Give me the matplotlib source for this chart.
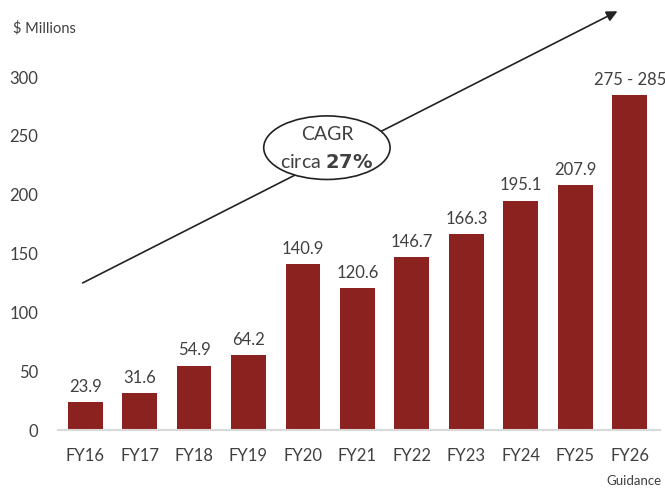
import matplotlib.pyplot as plt
from matplotlib.patches import Ellipse

categories = ["FY16", "FY17", "FY18", "FY19", "FY20", "FY21", "FY22", "FY23", "FY24", "FY25", "FY26"]
values = [23.9, 31.6, 54.9, 64.2, 140.9, 120.6, 146.7, 166.3, 195.1, 207.9, 285]
labels = ["23.9", "31.6", "54.9", "64.2", "140.9", "120.6", "146.7", "166.3", "195.1", "207.9", "275 - 285"]
yticks = [0, 50, 100, 150, 200, 250, 300]

plt.rcParams['font.family'] = ['Lato', 'DejaVu Sans']
txt = '#404040'
bar_c = '#8B221F'

fig = plt.figure(figsize=(6.65, 4.91), dpi=100)
ax = fig.add_axes([0.087, 0.124, 0.905, 0.719])
x = list(range(len(categories)))
ax.bar(x, values, width=0.64, color=bar_c, zorder=2)
for xi, v, l in zip(x, values, labels):
    ax.text(xi, v + 6, l, ha='center', va='bottom', fontsize=12, color=txt, clip_on=False)

ax.set_xlim(-0.5, 10.55)
ax.set_ylim(0, 300)
ax.set_yticks(yticks)
ax.set_xticks(x)
ax.set_xticklabels(categories)
ax.tick_params(axis='both', length=0, colors=txt, labelsize=12)
ax.tick_params(axis='x', pad=13)
ax.tick_params(axis='y', pad=14)
for s in ['top', 'right', 'left']:
    ax.spines[s].set_visible(False)
ax.spines['bottom'].set_color('#d9d9d9')
ax.spines['bottom'].set_linewidth(1.5)

ax.annotate('', xy=(9.82, 357), xytext=(-0.09, 124), xycoords='data',
            arrowprops=dict(arrowstyle='-|>', color='#222222', lw=1.2, mutation_scale=16),
            annotation_clip=False, zorder=3)
ell = Ellipse((4.44, 240), 2.32, 54, facecolor='white', edgecolor='#222222', lw=1.2, zorder=4, clip_on=False)
ax.add_patch(ell)
ax.text(4.44, 251, 'CAGR', ha='center', va='center', fontsize=14, color=txt, zorder=5)
ax.text(4.44, 228, 'circa $\\bf{27\\%}$', ha='center', va='center', fontsize=14, color=txt, zorder=5)

fig.text(0.02, 0.943, '$ Millions', fontsize=10.5, color=txt, ha='left', va='center')
fig.text(0.995, 0.02, 'Guidance', fontsize=9.5, color=txt, ha='right', va='center')

fig.savefig('out.png', dpi=100)
